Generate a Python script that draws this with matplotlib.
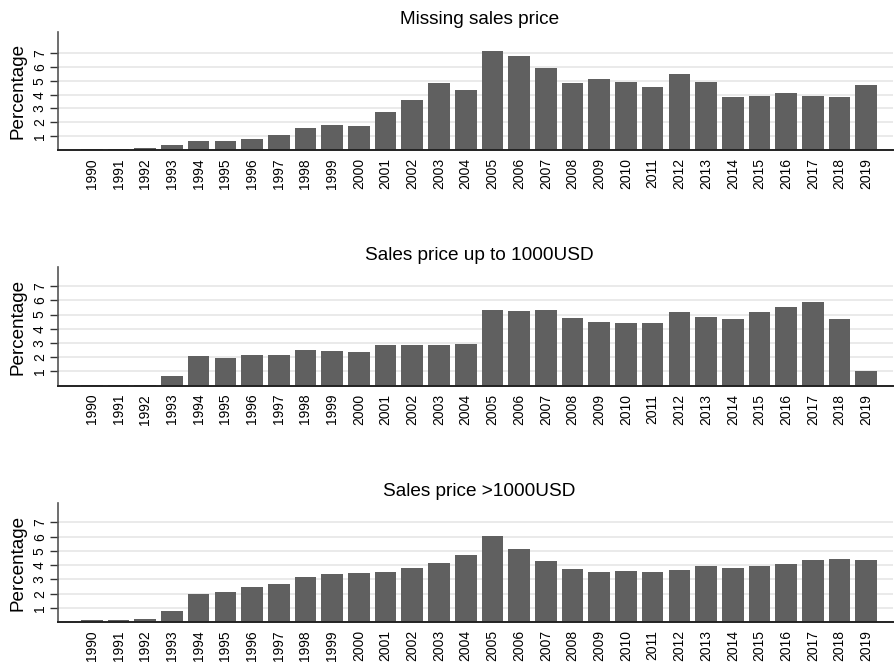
import matplotlib
matplotlib.use("Agg")
import matplotlib.pyplot as plt
import numpy as np

plt.rcParams["font.family"] = ["Liberation Sans", "DejaVu Sans"]

years = list(range(1990, 2020))

missing_price = [0.07, 0.07, 0.17, 0.36, 0.65, 0.65, 0.82, 1.11, 1.60, 1.84,
                 1.77, 2.78, 3.58, 4.83, 4.37, 7.19, 6.83, 5.96, 4.83, 5.10,
                 4.90, 4.59, 5.53, 4.95, 3.80, 3.87, 4.09, 3.87, 3.80, 4.69]

upto_1000 = [0.05, 0.05, 0.05, 0.68, 2.09, 1.97, 2.16, 2.16, 2.53, 2.46,
             2.37, 2.86, 2.88, 2.86, 2.93, 5.32, 5.25, 5.32, 4.76, 4.48,
             4.41, 4.41, 5.18, 4.83, 4.69, 5.18, 5.53, 5.88, 4.69, 1.03]

over_1000 = [0.14, 0.14, 0.21, 0.80, 1.99, 2.13, 2.46, 2.70, 3.16, 3.38,
             3.45, 3.52, 3.80, 4.15, 4.71, 6.05, 5.13, 4.29, 3.73, 3.52,
             3.59, 3.52, 3.66, 3.94, 3.80, 3.94, 4.08, 4.36, 4.43, 4.36]

titles = ["Missing sales price", "Sales price up to 1000USD", "Sales price >1000USD"]
series = [missing_price, upto_1000, over_1000]
y_tops = [8.53, 8.32, 8.35]
y_ticks = [1, 2, 3, 4, 5, 6, 7]

W, H = 894, 666
fig = plt.figure(figsize=(W / 100, H / 100), dpi=100)

# axes boxes in pixels: (top, bottom)
boxes = [(32, 150), (267.3, 385.7), (503.3, 622)]
left_px, right_px = 58, 893

bar_color = "#606060"
grid_color = "#e8e8e8"

x = np.arange(len(years))
for (top, bot), title, vals, ytop in zip(boxes, titles, series, y_tops):
    ax = fig.add_axes([left_px / W, 1 - bot / H, (right_px - left_px) / W, (bot - top) / H])
    ax.bar(x, vals, width=0.81, color=bar_color, zorder=2)
    ax.set_xlim(-1.266, 30.0)
    ax.set_ylim(0, ytop)

    ax.set_yticks(y_ticks)
    ax.set_yticklabels([str(t) for t in y_ticks], rotation=90, va="center")
    for t in y_ticks:
        ax.axhline(t, color=grid_color, lw=1.3, zorder=1)
    ax.tick_params(axis="y", length=5.5, width=1.0, color="#333333",
                   labelsize=10, pad=2.5, direction="out")

    ax.set_xticks(x)
    ax.set_xticklabels([str(y) for y in years], rotation=90)
    ax.tick_params(axis="x", length=0, labelsize=10, pad=5.8)

    for s in ["top", "right"]:
        ax.spines[s].set_visible(False)
    ax.spines["left"].set_color("#555555")
    ax.spines["left"].set_linewidth(1.2)
    ax.spines["bottom"].set_color("#222222")
    ax.spines["bottom"].set_linewidth(1.4)

    ax.text((18.5 - left_px) / (right_px - left_px), 0.5, "Percentage",
            rotation=90, ha="center", va="center", fontsize=13.6,
            transform=ax.transAxes)

    ax.annotate(title, xy=(0.505, 1.0), xycoords="axes fraction",
                xytext=(0, 5.4), textcoords="offset points",
                ha="center", va="baseline", fontsize=13.7)

fig.savefig("out.png", dpi=100, facecolor="white")
